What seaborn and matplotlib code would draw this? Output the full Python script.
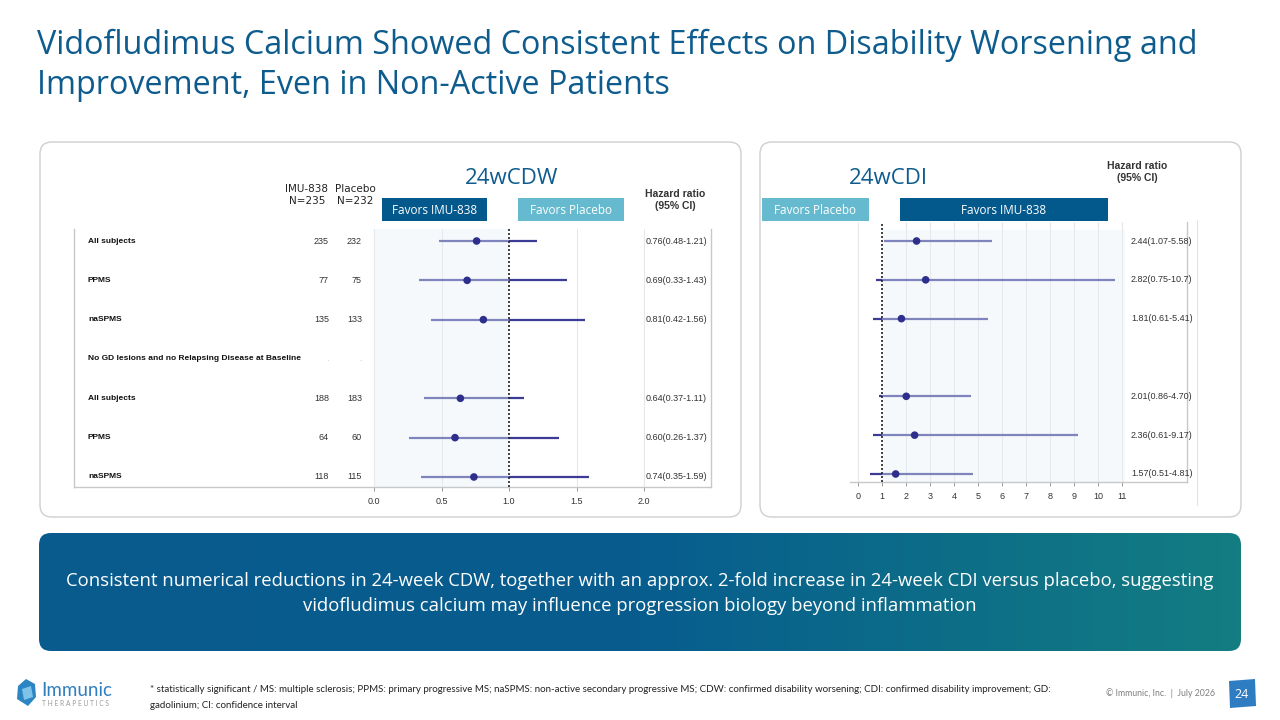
import numpy as np
import pandas as pd
import matplotlib
matplotlib.use('Agg')
import matplotlib.pyplot as plt
from matplotlib.patches import FancyBboxPatch, Rectangle, Polygon
from matplotlib.colors import LinearSegmentedColormap
import seaborn as sns

# ---- data ----
subgroups = ["All subjects", "PPMS", "naSPMS",
             "No GD lesions and no Relapsing Disease at Baseline",
             "All subjects", "PPMS", "naSPMS"]
imu_n = ["235", "77", "135", ".", "188", "64", "118"]
pbo_n = ["232", "75", "133", ".", "183", "60", "115"]

cdw_hr = [0.76, 0.69, 0.81, np.nan, 0.64, 0.60, 0.74]
cdw_lo = [0.48, 0.33, 0.42, np.nan, 0.37, 0.26, 0.35]
cdw_hi = [1.21, 1.43, 1.56, np.nan, 1.11, 1.37, 1.59]

cdi_hr = [2.44, 2.82, 1.81, np.nan, 2.01, 2.36, 1.57]
cdi_lo = [1.07, 0.75, 0.61, np.nan, 0.86, 0.61, 0.51]
cdi_hi = [5.58, 10.7, 5.41, np.nan, 4.70, 9.17, 4.81]

cdw_ticks = [0.0, 0.5, 1.0, 1.5, 2.0]
cdi_ticks = list(range(0, 12))

cdw = pd.DataFrame({'row': range(len(subgroups)), 'hr': cdw_hr, 'lo': cdw_lo, 'hi': cdw_hi})
cdi = pd.DataFrame({'row': range(len(subgroups)), 'hr': cdi_hr, 'lo': cdi_lo, 'hi': cdi_hi})

TITLE_BLUE = '#0E5C8E'
DARK_BOX = '#03598C'
LIGHT_BOX = '#66BACF'
NAVY = '#2E2E8C'
LINE = '#3C3C96'
GRID = '#E6E6E6'
SPINE = '#C8C8C8'
NARROW = ['Liberation Sans Narrow', 'Liberation Sans', 'DejaVu Sans']


def hr_label(h, l, u):
    fu = f"{u:.1f}" if u >= 10 else f"{u:.2f}"
    return f"{h:.2f}({l:.2f}-{fu})"


sns.set_theme(style='white')
plt.rcParams['font.family'] = ['Open Sans', 'DejaVu Sans']

W, H = 1280, 720
fig = plt.figure(figsize=(12.8, 7.2), dpi=100)
fig.patch.set_facecolor('white')

# background axes in pixel coordinates
bg = fig.add_axes([0, 0, 1, 1])
bg.set_xlim(0, W)
bg.set_ylim(H, 0)
bg.axis('off')

# title
bg.text(37, 45, "Vidofludimus Calcium Showed Consistent Effects on Disability Worsening and",
        fontsize=23.3, color=TITLE_BLUE, va='center', ha='left')
bg.text(37, 86, "Improvement, Even in Non-Active Patients",
        fontsize=23.3, color=TITLE_BLUE, va='center', ha='left')

# panel frames
for x0, x1 in [(40, 741), (760, 1241)]:
    bg.add_patch(FancyBboxPatch((x0, 142), x1 - x0, 375, boxstyle='round,pad=0,rounding_size=12',
                                facecolor='white', edgecolor='#CFCFCF', lw=1.0))

# panel headings
bg.text(512, 178, "24wCDW", fontsize=16, color=TITLE_BLUE, ha='center', va='center')
bg.text(888, 178, "24wCDI", fontsize=16, color=TITLE_BLUE, ha='center', va='center')

bg.text(307, 195, "IMU-838\nN=235", fontsize=7.5, color='#222222', ha='center', va='center',
        family='DejaVu Sans', linespacing=1.15)
bg.text(355, 195, "Placebo\nN=232", fontsize=7.5, color='#222222', ha='center', va='center',
        family='DejaVu Sans', linespacing=1.15)
bg.text(675, 200, "Hazard ratio\n(95% CI)", fontsize=7.5, color='#333333', ha='center', va='center',
        family=NARROW, fontweight='bold', linespacing=1.2)
bg.text(1137, 172, "Hazard ratio\n(95% CI)", fontsize=7.5, color='#333333', ha='center', va='center',
        family=NARROW, fontweight='bold', linespacing=1.2)


def favors(x0, x1, color, label):
    bg.add_patch(Rectangle((x0, 198), x1 - x0, 23, facecolor=color, edgecolor='none'))
    bg.text((x0 + x1) / 2, 210, label, color='white', fontsize=8.5, ha='center', va='center')


favors(382, 487, DARK_BOX, "Favors IMU-838")
favors(518, 624, LIGHT_BOX, "Favors Placebo")
favors(762, 869, LIGHT_BOX, "Favors Placebo")
favors(900, 1108, DARK_BOX, "Favors IMU-838")

bg.plot([1197, 1197], [220, 505], color='#E4E4E4', lw=0.8)

# conclusion banner with gradient
banner = FancyBboxPatch((39, 533), 1202, 118, boxstyle='round,pad=0,rounding_size=12',
                        facecolor='none', edgecolor='none')
bg.add_patch(banner)
cmap = LinearSegmentedColormap.from_list('band', ['#0A5B8D', '#075D8E', '#137D82'])
im = bg.imshow(np.linspace(0, 1, 256)[None, :], extent=[39, 1241, 651, 533], cmap=cmap,
               aspect='auto', zorder=1)
im.set_clip_path(banner)
bg.set_xlim(0, W)
bg.set_ylim(H, 0)
bg.text(640, 581, "Consistent numerical reductions in 24-week CDW, together with an approx. 2-fold increase "
        "in 24-week CDI versus placebo, suggesting", color='white', fontsize=13.3, ha='center', va='center',
        zorder=2)
bg.text(640, 606, "vidofludimus calcium may influence progression biology beyond inflammation",
        color='white', fontsize=13.3, ha='center', va='center', zorder=2)

# footer
bg.add_patch(Polygon([(18, 686), (26, 679), (35, 684), (36, 697), (28, 706), (17, 699)],
                     closed=True, facecolor='#2C86C4', edgecolor='none'))
bg.add_patch(Polygon([(22, 689), (31, 686), (33, 697), (24, 700)],
                     closed=True, facecolor='#7FC3E8', edgecolor='none'))
bg.text(41, 691, "Immunic", fontsize=13.5, color='#2F7FBF', ha='left', va='center', family=['Lato', 'DejaVu Sans'])
bg.text(42, 704, "T H E R A P E U T I C S", fontsize=4.8, color='#9A9A9A', ha='left', va='center',
        family=['Lato', 'DejaVu Sans'])
bg.text(150, 690, "* statistically significant / MS: multiple sclerosis; PPMS: primary progressive MS; "
        "naSPMS: non-active secondary progressive MS; CDW: confirmed disability worsening; "
        "CDI: confirmed disability improvement; GD:", fontsize=7.0, color='#222222', ha='left', va='center',
        family=['Lato', 'DejaVu Sans'])
bg.text(150, 705, "gadolinium; CI: confidence interval", fontsize=7.0, color='#222222', ha='left',
        va='center', family=['Lato', 'DejaVu Sans'])
bg.text(1215, 693, "\u00a9 Immunic, Inc.  |  July 2026", fontsize=6.3, color='#7F7F7F', ha='right',
        va='center', family=['Lato', 'DejaVu Sans'])
bg.add_patch(Polygon([(1229, 681), (1255, 679), (1256, 706), (1230, 708)], closed=True,
                     facecolor='#2E7CC2', edgecolor='none'))
bg.text(1242, 694, "24", color='white', fontsize=9, ha='center', va='center')


def forest(rect_px, data, xlim, ylim, ticks, shade, tick_fmt, spines):
    x0, y0, x1, y1 = rect_px
    ax = fig.add_axes([x0 / W, 1 - y1 / H, (x1 - x0) / W, (y1 - y0) / H])
    ax.set_facecolor('none')
    ax.set_xlim(*xlim)
    ax.set_ylim(*ylim)
    for t in ticks:
        if t != 1:
            ax.plot([t, t], [ylim[0], ylim[1]], color=GRID, lw=0.8, zorder=1)
    ok = data.dropna()
    ax.hlines(ok['row'], ok['lo'], ok['hi'], color=LINE, lw=1.6, zorder=2)
    ax.add_patch(Rectangle((shade[0], shade[2]), shade[1] - shade[0], ylim[0] - shade[2],
                           facecolor='#E8F1F8', alpha=0.4, edgecolor='none', zorder=2.5))
    sns.scatterplot(data=ok, x='hr', y='row', ax=ax, color=NAVY, s=30, edgecolor='none',
                    zorder=3, legend=False)
    ax.plot([1, 1], [ylim[0], ylim[1]], color='#222222', lw=1.2, ls=(0, (1.2, 1.2)), zorder=4)
    ax.set_xticks(ticks)
    ax.set_xticklabels([tick_fmt(t) for t in ticks], fontsize=6.5, color='#333333',
                       family=['Liberation Sans', 'DejaVu Sans'])
    ax.set_yticks([])
    ax.set_xlabel('')
    ax.set_ylabel('')
    ax.tick_params(axis='x', length=3, width=0.6, color='#888888', pad=4, bottom=True)
    for side, sp in ax.spines.items():
        sp.set_visible(side in spines)
        sp.set_color(SPINE)
        sp.set_linewidth(1.0)
    return ax


rows = len(subgroups)

# 24wCDW: 0 -> px 374, 2 -> px 644
ppx = 135.0
axl = forest((74, 229, 711, 487), cdw,
             ((74 - 374) / ppx, (711 - 374) / ppx),
             ((487 - 241) / 39.33, (229 - 241) / 39.33),
             cdw_ticks, (0, 1, (229 - 241) / 39.33), lambda t: f"{t:.1f}",
             ('left', 'bottom', 'right'))
for i in range(rows):
    axl.text((88 - 374) / ppx, i, subgroups[i], fontsize=6, fontweight='bold', ha='left', va='center',
             color='#111111', family=NARROW)
    axl.text((329 - 374) / ppx, i, imu_n[i], fontsize=6.5, ha='right', va='center',
             color='#CCCCCC' if imu_n[i] == '.' else '#333333', family=NARROW)
    axl.text((362 - 374) / ppx, i, pbo_n[i], fontsize=6.5, ha='right', va='center',
             color='#CCCCCC' if pbo_n[i] == '.' else '#333333', family=NARROW)
    if not np.isnan(cdw_hr[i]):
        axl.text((707 - 374) / ppx, i, hr_label(cdw_hr[i], cdw_lo[i], cdw_hi[i]), fontsize=6.5,
                 ha='right', va='center', color='#333333', family=NARROW)

# 24wCDI: 0 -> px 858, 11 -> px 1122
qpx = 24.0
axr = forest((850, 222, 1187, 482), cdi,
             ((850 - 858) / qpx, (1187 - 858) / qpx),
             ((482 - 241) / 38.83, (222 - 241) / 38.83),
             cdi_ticks, (1, (1125 - 858) / qpx, (230 - 241) / 38.83), lambda t: f"{t:d}",
             ('bottom', 'right'))
for i in range(rows):
    if not np.isnan(cdi_hr[i]):
        axr.text((1131 - 858) / qpx, i, hr_label(cdi_hr[i], cdi_lo[i], cdi_hi[i]), fontsize=6.5,
                 ha='left', va='center', color='#333333', family=NARROW)

fig.savefig('out.png', dpi=100, facecolor='white')
